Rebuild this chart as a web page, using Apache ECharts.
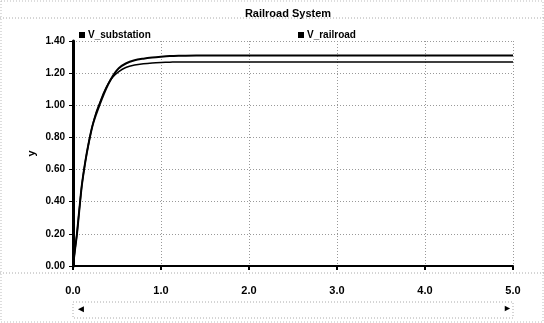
<!DOCTYPE html>
<html>
<head>
    <meta charset="utf-8">
    <script type="text/javascript" src="https://cdn.jsdelivr.net/npm/echarts@6/dist/echarts.min.js"></script>
    <title>Railroad System</title>
</head>
<body style="margin:0">
    <div id="container" style="width:544px;height:323px;"></div>
    <script type="text/javascript">
    // data
    var timeSub = [0, 0.02, 0.045, 0.07, 0.1, 0.14, 0.18, 0.22, 0.26, 0.30, 0.35, 0.40, 0.45, 0.52, 0.6, 0.7, 0.8, 0.9, 1.0, 1.1, 1.2, 1.4, 2.0, 3.0, 4.0, 5.0];
    var vSubstation = [0, 0.09, 0.2, 0.34, 0.5, 0.65, 0.77, 0.87, 0.94, 1.0, 1.07, 1.13, 1.18, 1.23, 1.26, 1.28, 1.29, 1.297, 1.302, 1.306, 1.308, 1.31, 1.31, 1.31, 1.31, 1.31];
    var vRailroad = [0, 0.09, 0.2, 0.34, 0.5, 0.65, 0.77, 0.87, 0.95, 1.01, 1.08, 1.135, 1.175, 1.21, 1.235, 1.25, 1.258, 1.263, 1.266, 1.268, 1.27, 1.27, 1.27, 1.27, 1.27, 1.27];
    var seriesNames = ["V_substation", "V_railroad"];

    function pairs(xs, ys) {
        return xs.map(function (x, i) { return [x, ys[i]]; });
    }

    var myChart = echarts.init(document.getElementById('container'));
    var dotted = { color: "#999", type: [1, 2], width: 1 };

    var option = {
        animation: false,
        backgroundColor: "#fff",
        title: {
            text: "Railroad System",
            left: 283, top: 3, textAlign: "center",
            textStyle: { fontFamily: "Liberation Sans", fontSize: 11, fontWeight: "bold", color: "#000" }
        },
        legend: [{
            data: [seriesNames[0]], left: 74, top: 25, itemWidth: 6, itemHeight: 6, itemGap: 4,
            icon: "rect",
            textStyle: { fontFamily: "Liberation Sans", fontSize: 10, fontWeight: "bold", color: "#000", padding: [0, 0, 0, -2] }
        }, {
            data: [seriesNames[1]], left: 293, top: 25, itemWidth: 6, itemHeight: 6,
            icon: "rect",
            textStyle: { fontFamily: "Liberation Sans", fontSize: 10, fontWeight: "bold", color: "#000", padding: [0, 0, 0, -2] }
        }],
        grid: { left: 73, right: 31, top: 41, bottom: 57 },
        xAxis: {
            type: "value", min: 0, max: 5, interval: 1, offset: 14,
            axisLine: { lineStyle: { color: "#000", width: 2 } },
            axisTick: { show: true, length: 4, lineStyle: { color: "#000", width: 2 } },
            axisLabel: {
                formatter: function (v) { return v.toFixed(1); },
                fontFamily: "Liberation Sans", fontSize: 11, fontWeight: "bold", color: "#000", margin: 5
            },
            splitLine: { show: true, lineStyle: dotted }
        },
        yAxis: {
            type: "value", min: 0, max: 1.4, interval: 0.2,
            name: "y", nameLocation: "middle", nameGap: 36, nameRotate: 90, nameMoveOverlap: false,
            nameTextStyle: { fontFamily: "Liberation Sans", fontSize: 11, fontWeight: "bold", color: "#000" },
            axisLine: { show: true, lineStyle: { color: "#000", width: 3 } },
            axisTick: { show: true, length: 4, lineStyle: { color: "#000" } },
            axisLabel: {
                formatter: function (v) { return v.toFixed(2); },
                fontFamily: "Liberation Sans", fontSize: 10, fontWeight: "bold", color: "#000", margin: 8
            },
            splitLine: { show: true, lineStyle: dotted }
        },
        graphic: [
            { type: "line", shape: { x1: 0, y1: 18, x2: 544, y2: 18 }, style: { stroke: "#aaa", lineDash: [1, 2] } },
            { type: "line", shape: { x1: 0, y1: 273, x2: 544, y2: 273 }, style: { stroke: "#aaa", lineDash: [1, 2] } },
            { type: "line", shape: { x1: 73, y1: 266, x2: 513, y2: 266 }, style: { stroke: "#000", lineWidth: 2 } },
            { type: "rect", shape: { x: 73, y: 302, width: 440, height: 16 }, style: { fill: "none", stroke: "#aaa", lineDash: [1, 2] } },
            { type: "text", x: 76, y: 304, style: { text: "◄", fontSize: 10, fill: "#000" } },
            { type: "text", x: 503, y: 304, style: { text: "►", fontSize: 9, fill: "#000" } },
            { type: "rect", shape: { x: 1, y: 1, width: 542, height: 321 }, style: { fill: "none", stroke: "#bbb", lineDash: [1, 2] } }
        ],
        series: [{
            name: seriesNames[0], type: "line", smooth: 0.3, showSymbol: false,
            data: pairs(timeSub, vSubstation),
            lineStyle: { color: "#000", width: 2 }, itemStyle: { color: "#000" }
        }, {
            name: seriesNames[1], type: "line", smooth: 0.3, showSymbol: false,
            data: pairs(timeSub, vRailroad),
            lineStyle: { color: "#000", width: 1.5 }, itemStyle: { color: "#000" }
        }]
    };

    myChart.setOption(option);
    </script>
</body>
</html>
